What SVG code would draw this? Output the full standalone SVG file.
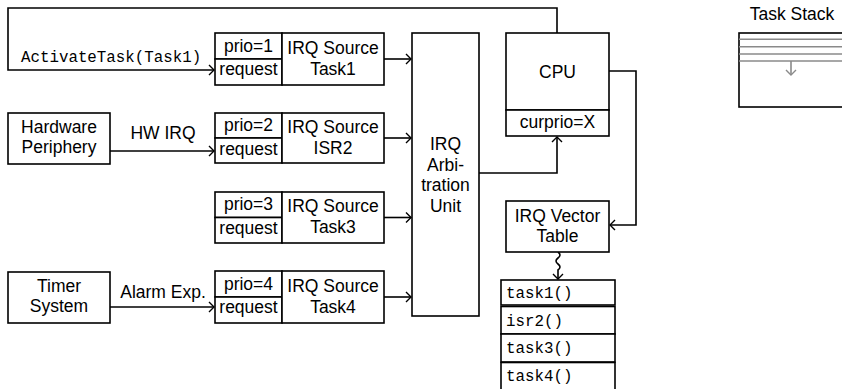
<svg xmlns="http://www.w3.org/2000/svg" width="842" height="389" viewBox="0 0 842 389">
<defs>
<style>
.b{fill:#fff;stroke:#000;stroke-width:1.6}
.l{fill:none;stroke:#000;stroke-width:1.6}
.t{font-family:"Liberation Sans",Arial,sans-serif;font-size:17.5px;fill:#000;text-anchor:middle}
.m{font-family:"Liberation Mono","Courier New",monospace;font-size:15.8px;fill:#000}
.g{stroke:#8a8a8a;stroke-width:1.6;fill:none}
</style>
<marker id="a" viewBox="-6 -6 8 12" markerWidth="8" markerHeight="12" refX="0" refY="0" orient="auto" markerUnits="userSpaceOnUse">
<path d="M-5,-5 Q-1,-1 0,0 Q-1,1 -5,5" fill="none" stroke="#000" stroke-width="1.4"/>
</marker>
<marker id="ag" viewBox="-6 -6 8 12" markerWidth="8" markerHeight="12" refX="0" refY="0" orient="auto" markerUnits="userSpaceOnUse">
<path d="M-5,-5 Q-1,-1 0,0 Q-1,1 -5,5" fill="none" stroke="#8a8a8a" stroke-width="1.4"/>
</marker>
</defs>
<rect width="842" height="389" fill="#fff"/>

<g id="connectors">
<path class="l" d="M557,33 V8 H8 V70 H214" marker-end="url(#a)"/>
<path class="l" d="M110,151 H214" marker-end="url(#a)"/>
<path class="l" d="M110,307 H214" marker-end="url(#a)"/>
<path class="l" d="M384,59 H411" marker-end="url(#a)"/>
<path class="l" d="M384,138 H411" marker-end="url(#a)"/>
<path class="l" d="M384,217.5 H411" marker-end="url(#a)"/>
<path class="l" d="M384,297 H411" marker-end="url(#a)"/>
<path class="l" d="M479,173 H557 V137" marker-end="url(#a)"/>
<path class="l" d="M609,71 H636 V225 H610" marker-end="url(#a)"/>
<path class="l" d="M558,252 q4,3 0,6 q-4,3 0,6 q4,3 0,6 L558,279" marker-end="url(#a)"/>
<text class="m" x="21" y="62">ActivateTask(Task1)</text>
<text class="t" x="163" y="139">HW IRQ</text>
<text class="t" x="163" y="298">Alarm Exp.</text>
</g>

<g id="hw">
<rect class="b" x="8" y="113" width="102" height="51"/>
<text class="t" x="59" y="133">Hardware</text>
<text class="t" x="59" y="153">Periphery</text>
</g>
<g id="timer">
<rect class="b" x="8" y="272" width="102" height="51"/>
<text class="t" x="59" y="292">Timer</text>
<text class="t" x="59" y="312">System</text>
</g>

<g id="src1">
<rect class="b" x="215" y="33" width="67" height="26"/>
<rect class="b" x="215" y="59" width="67" height="26"/>
<rect class="b" x="282" y="33" width="102" height="52"/>
<text class="t" x="248.5" y="52">prio=1</text>
<text class="t" x="248.5" y="75">request</text>
<text class="t" x="333" y="54">IRQ Source</text>
<text class="t" x="333" y="75">Task1</text>
</g>
<g id="src2">
<rect class="b" x="215" y="113" width="67" height="25"/>
<rect class="b" x="215" y="138" width="67" height="25"/>
<rect class="b" x="282" y="113" width="102" height="50"/>
<text class="t" x="248.5" y="131">prio=2</text>
<text class="t" x="248.5" y="155">request</text>
<text class="t" x="333" y="133">IRQ Source</text>
<text class="t" x="333" y="154">ISR2</text>
</g>
<g id="src3">
<rect class="b" x="215" y="192" width="67" height="25.5"/>
<rect class="b" x="215" y="217.5" width="67" height="25.5"/>
<rect class="b" x="282" y="192" width="102" height="51"/>
<text class="t" x="248.5" y="210">prio=3</text>
<text class="t" x="248.5" y="234">request</text>
<text class="t" x="333" y="212">IRQ Source</text>
<text class="t" x="333" y="233">Task3</text>
</g>
<g id="src4">
<rect class="b" x="215" y="271" width="67" height="26"/>
<rect class="b" x="215" y="297" width="67" height="26"/>
<rect class="b" x="282" y="271" width="102" height="52"/>
<text class="t" x="248.5" y="290">prio=4</text>
<text class="t" x="248.5" y="313">request</text>
<text class="t" x="333" y="292">IRQ Source</text>
<text class="t" x="333" y="313">Task4</text>
</g>

<g id="arb">
<rect class="b" x="412" y="33" width="67" height="283"/>
<text class="t" x="445.5" y="150">IRQ</text>
<text class="t" x="445.5" y="170.5">Arbi-</text>
<text class="t" x="445.5" y="191">tration</text>
<text class="t" x="445.5" y="211.5">Unit</text>
</g>

<g id="cpu">
<rect class="b" x="506" y="33" width="103" height="77"/>
<rect class="b" x="506" y="110" width="103" height="26"/>
<text class="t" x="557.5" y="78">CPU</text>
<text class="t" x="557.5" y="128">curprio=X</text>
</g>

<g id="ivt">
<rect class="b" x="506" y="201" width="103" height="51"/>
<text class="t" x="557.5" y="222">IRQ Vector</text>
<text class="t" x="557.5" y="242">Table</text>
</g>

<g id="tasklist">
<rect class="b" x="501" y="280" width="114" height="25"/>
<rect class="b" x="501" y="306.5" width="114" height="27.5"/>
<rect class="b" x="501" y="334" width="114" height="28"/>
<rect class="b" x="501" y="362.5" width="114" height="28"/>
<text class="m" x="506" y="298">task1()</text>
<text class="m" x="506" y="326">isr2()</text>
<text class="m" x="506" y="353">task3()</text>
<text class="m" x="506" y="381">task4()</text>
</g>

<g id="stack">
<text class="t" x="792" y="20">Task Stack</text>
<rect class="b" x="739" y="33" width="120" height="74"/>
<path class="g" d="M739,39.3 H842 M739,46.7 H842 M739,54 H842 M739,61 H842"/>
<path class="g" d="M791,61 V75" marker-end="url(#ag)"/>
</g>
</svg>
